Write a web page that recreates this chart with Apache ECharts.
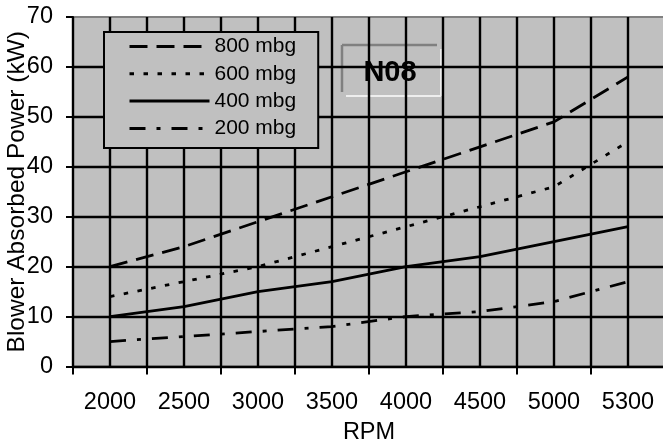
<!DOCTYPE html>
<html>
<head>
<meta charset="utf-8">
<script src="https://cdn.jsdelivr.net/npm/echarts@6/dist/echarts.min.js"></script>
<style>
html,body{margin:0;padding:0;background:#fff;}
#chart{width:663px;height:445px;}
</style>
</head>
<body>
<div id="chart"></div>
<script>
var rpm = ['2000','2500','3000','3500','4000','4500','5000','5300'];
var mbg800 = [20, 24, 29, 34, 39, 44, 49, 58];
var mbg600 = [14, 17, 20, 24, 28, 32, 36, 45];
var mbg400 = [10, 12, 15, 17, 20, 22, 25, 28];
var mbg200 = [5, 6, 7, 8, 10, 11, 13, 17];
var seriesNames = ['800 mbg','600 mbg','400 mbg','200 mbg'];
var halfSteps = rpm.concat(rpm).map(function(){return '';}); // 16 half-category slots for the grid lines

var FONT = "'Liberation Sans', Arial, sans-serif";
var chart = echarts.init(document.getElementById('chart'), null, {renderer:'canvas'});

function ser(name, data, dash){
  return {
    name: name, type: 'line', data: data, symbol: 'none', showSymbol: false, smooth: false,
    xAxisIndex: 0, yAxisIndex: 0, z: 5,
    itemStyle: {color: '#000'},
    lineStyle: {color: '#000', width: 2.8, type: dash, cap: 'butt'}
  };
}

chart.setOption({
  animation: false,
  backgroundColor: '#fff',
  grid: {left: 73, right: -2, top: 17, bottom: 78.5, show: true, containLabel: false,
         outerBoundsMode: 'none',
         backgroundColor: '#c0c0c0', borderColor: '#808080', borderWidth: 2},
  legend: {
    orient: 'vertical', left: 104, top: 32,
    data: seriesNames,
    backgroundColor: '#c0c0c0', borderColor: '#000', borderWidth: 2,
    padding: [4, 22, 9, 24],
    itemWidth: 80, itemHeight: 14, itemGap: 6.3,
    itemStyle: {color: 'rgba(0,0,0,0)', borderWidth: 0, opacity: 0},
    lineStyle: {width: 3, color: '#000'},
    textStyle: {fontFamily: FONT, fontSize: 21, color: '#000', lineHeight: 20},
    selectedMode: false
  },
  xAxis: [{
    type: 'category', data: rpm, boundaryGap: true, position: 'bottom',
    name: 'RPM', nameLocation: 'middle', nameGap: 54, nameMoveOverlap: false,
    nameTextStyle: {fontFamily: FONT, fontSize: 23.5, color: '#000'},
    axisLine: {show: true, lineStyle: {color: '#000', width: 2}},
    axisTick: {show: true, inside: false, length: 8, interval: 0, lineStyle: {color: '#000', width: 2}},
    axisLabel: {interval: 0, margin: 24, fontFamily: FONT, fontSize: 23.5, color: '#000'},
    splitLine: {show: false}
  }, {
    type: 'category', data: halfSteps, boundaryGap: true, position: 'bottom',
    axisLine: {show: false}, axisTick: {show: false}, axisLabel: {show: false},
    splitLine: {show: true, interval: 0, lineStyle: {color: '#000', width: 2.4}}
  }],
  yAxis: {
    type: 'value', min: 0, max: 70, interval: 10,
    name: 'Blower Absorbed Power (kW)', nameLocation: 'middle', nameGap: 43, nameMoveOverlap: false,
    nameTextStyle: {fontFamily: FONT, fontSize: 24.5, color: '#000'},
    axisLine: {show: true, lineStyle: {color: '#000', width: 2}},
    axisTick: {show: true, inside: false, length: 7, lineStyle: {color: '#000', width: 2}},
    axisLabel: {margin: 20, fontFamily: FONT, fontSize: 23.5, color: '#000'},
    splitLine: {show: true, showMaxLine: false, lineStyle: {color: '#000', width: 2.4}}
  },
  series: [
    ser(seriesNames[0], mbg800, [18, 9]),
    ser(seriesNames[1], mbg600, [4.5, 9.5]),
    ser(seriesNames[2], mbg400, 'solid'),
    ser(seriesNames[3], mbg200, [16, 11, 4, 11])
  ],
  graphic: [{
    type: 'group', z: 100,
    children: [
      {type: 'rect', shape: {x: 342, y: 45, width: 99, height: 51}, style: {fill: '#c0c0c0'}},
      {type: 'line', shape: {x1: 342, y1: 45, x2: 437, y2: 45}, style: {stroke: '#808080', lineWidth: 2.5}},
      {type: 'line', shape: {x1: 342, y1: 45, x2: 342, y2: 92}, style: {stroke: '#808080', lineWidth: 2.5}},
      {type: 'line', shape: {x1: 346, y1: 96, x2: 441, y2: 96}, style: {stroke: '#eeeeee', lineWidth: 2}},
      {type: 'line', shape: {x1: 441, y1: 49, x2: 441, y2: 96}, style: {stroke: '#eeeeee', lineWidth: 2}},
      {type: 'text', x: 390, y: 73, style: {text: 'N08', fontFamily: FONT, fontSize: 29, fontWeight: 'bold',
        fill: '#000', align: 'center', verticalAlign: 'middle'}}
    ]
  }]
});
</script>
</body>
</html>
